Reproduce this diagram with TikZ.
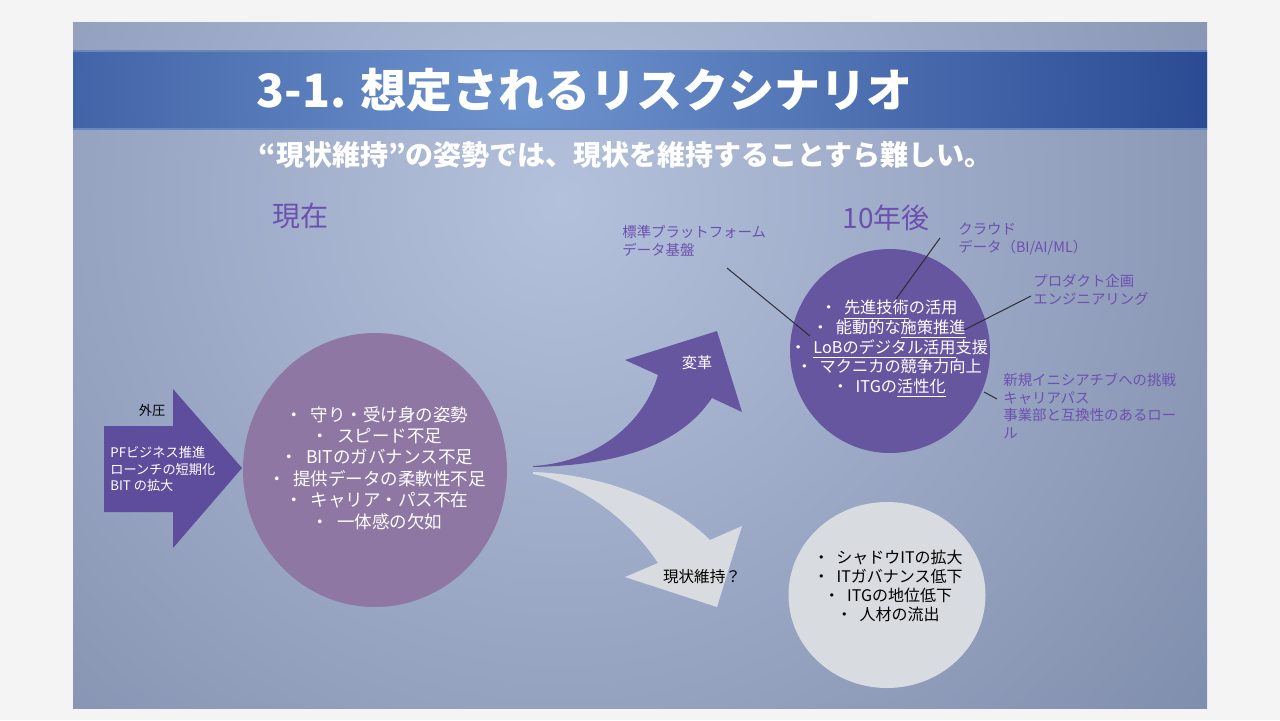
\documentclass[tikz,border=0pt]{standalone}
\usepackage{fontspec}
\setmainfont{Noto Sans CJK JP}
\usetikzlibrary{shapes.geometric}

\definecolor{pagegray}{RGB}{244,244,244}
\definecolor{slidebase}{RGB}{116,130,162}
\definecolor{slidelight}{RGB}{180,193,220}
\definecolor{banddark}{RGB}{30,60,136}
\definecolor{bandlight}{RGB}{110,148,206}
\definecolor{bandedge}{RGB}{105,135,190}
\definecolor{arrowpurple}{RGB}{94,77,156}
\definecolor{deeppurple}{RGB}{102,86,160}
\definecolor{mauve}{RGB}{143,119,164}
\definecolor{labelpurple}{RGB}{108,80,176}
\definecolor{paleground}{RGB}{216,220,225}
\definecolor{leadgray}{RGB}{45,45,55}

\newcommand\itemdot{・\hspace{0.45em}}

\begin{document}
\begin{tikzpicture}[x=0.5pt, y=-0.5pt, inner sep=0pt,
    bubble/.style={ellipse, inner sep=0pt},
    bullets/.style={align=center, text=white, font=\fontsize{8.75pt}{10.7pt}\selectfont},
    callout/.style={text=labelpurple, align=left, anchor=west, font=\fontsize{7.2pt}{8.8pt}\selectfont},
    leader/.style={draw=leadgray, line width=0.5pt}]
  \useasboundingbox (0,0) rectangle (1280,720);
  \fill[pagegray] (0,0) rectangle (1280,720);

  % slide and title band
  \begin{scope}
    \clip (73,22) rectangle (1207,708);
    \shade[inner color=slidelight, outer color=slidebase] (560,200) circle (1020);
    \begin{scope}
      \clip (73,51) rectangle (1207,129);
      \shade[inner color=bandlight, outer color=banddark] (520,90) circle (820);
    \end{scope}
  \end{scope}
  \draw[bandedge, line width=0.6pt] (73,51) -- (1207,51) (73,129) -- (1207,129);

  \node[anchor=west, text=white, font=\fontsize{23pt}{27pt}\selectfont\bfseries] (title) at (256,90) {3-1. 想定されるリスクシナリオ};
  \node[anchor=west, text=white, font=\fontsize{14pt}{17pt}\selectfont\bfseries] (subtitle) at (258,155) {“現状維持”の姿勢では、現状を維持することすら難しい。};

  \node[text=labelpurple, font=\fontsize{14pt}{17pt}\selectfont] (nowHead) at (300,216) {現在};
  \node[text=labelpurple, font=\fontsize{14pt}{17pt}\selectfont] (futureHead) at (886,218) {10年後};

  % external pressure
  \fill[arrowpurple] (104,426) -- (173,426) -- (173,389) -- (242,468) -- (173,548) -- (173,512) -- (104,512) -- cycle;
  \node[font=\fontsize{6.6pt}{8pt}\selectfont] (pressure) at (152,410) {外圧};
  \node[anchor=west, align=left, text=white, font=\fontsize{6.6pt}{8.2pt}\selectfont] (drivers) at (110,469) {PFビジネス推進\\ローンチの短期化\\BIT の拡大};

  % now
  \node[bubble, fill=mauve, minimum width=132pt, minimum height=137pt] (now) at (375,470) {};
  \node[bullets] (nowList) at (377,468) {\itemdot 守り・受け身の姿勢\\\itemdot スピード不足\\\itemdot BITのガバナンス不足\\\itemdot 提供データの柔軟性不足\\\itemdot キャリア・パス不在\\\itemdot 一体感の欠如};

  % two ways
  \fill[deeppurple] (533,466) .. controls (600,462) and (645,420) .. (658,375) -- (625,360) -- (717,331) -- (742,412) -- (712,398) .. controls (680,445) and (620,465) .. (533,467) -- cycle;
  \node[text=white, font=\fontsize{7.6pt}{9pt}\selectfont] (reform) at (697,363) {変革};
  \fill[paleground] (533,472) .. controls (600,474) and (670,500) .. (710,540) -- (742,526) -- (717,607) -- (625,577) -- (658,563) .. controls (630,520) and (580,483) .. (533,474) -- cycle;
  \node[font=\fontsize{7.8pt}{9pt}\selectfont] (keep) at (702,577) {現状維持？};

  % ten years later
  \node[bubble, fill=deeppurple, minimum width=100pt, minimum height=102pt] (future) at (890,351) {};
  \node[bullets, font=\fontsize{8.1pt}{9.8pt}\selectfont] (futureList) at (889,349) {\itemdot \underline{先進技術}の活用\\\itemdot 能動的な\underline{施策推進}\\\itemdot \underline{LoBのデジタル活用}支援\\\itemdot マクニカの競争力向上\\\itemdot ITGの\underline{活性化}};

  \node[bubble, fill=paleground, minimum width=98.5pt, minimum height=93pt] (status) at (887,595) {};
  \node[bullets, text=black, font=\fontsize{8pt}{9.5pt}\selectfont] (statusList) at (888,586) {\itemdot シャドウITの拡大\\\itemdot ITガバナンス低下\\\itemdot ITGの地位低下\\\itemdot 人材の流出};

  % callouts
  \node[callout] (stdLabel) at (622,241) {標準プラットフォーム\\データ基盤};
  \node[callout] (cloudLabel) at (958,239) {クラウド\\データ（BI/AI/ML）};
  \node[callout] (prodLabel) at (1033,290) {プロダクト企画\\エンジニアリング};
  \node[callout] (careerLabel) at (1003,406) {新規イニシアチブへの挑戦\\キャリアパス\\事業部と互換性のあるロー\\ル};

  \coordinate (stdFrom) at (727,268);
  \coordinate (stdTo) at (810,336);
  \coordinate (cloudFrom) at (940,238);
  \coordinate (cloudTo) at (896,299);
  \coordinate (prodFrom) at (1031,296);
  \coordinate (prodTo) at (964,330);
  \coordinate (careerFrom) at (997,399);
  \coordinate (careerTo) at (984,392);
  \draw[leader] (stdFrom) -- (stdTo);
  \draw[leader] (cloudFrom) -- (cloudTo);
  \draw[leader] (prodFrom) -- (prodTo);
  \draw[leader] (careerFrom) -- (careerTo);
\end{tikzpicture}
\end{document}
